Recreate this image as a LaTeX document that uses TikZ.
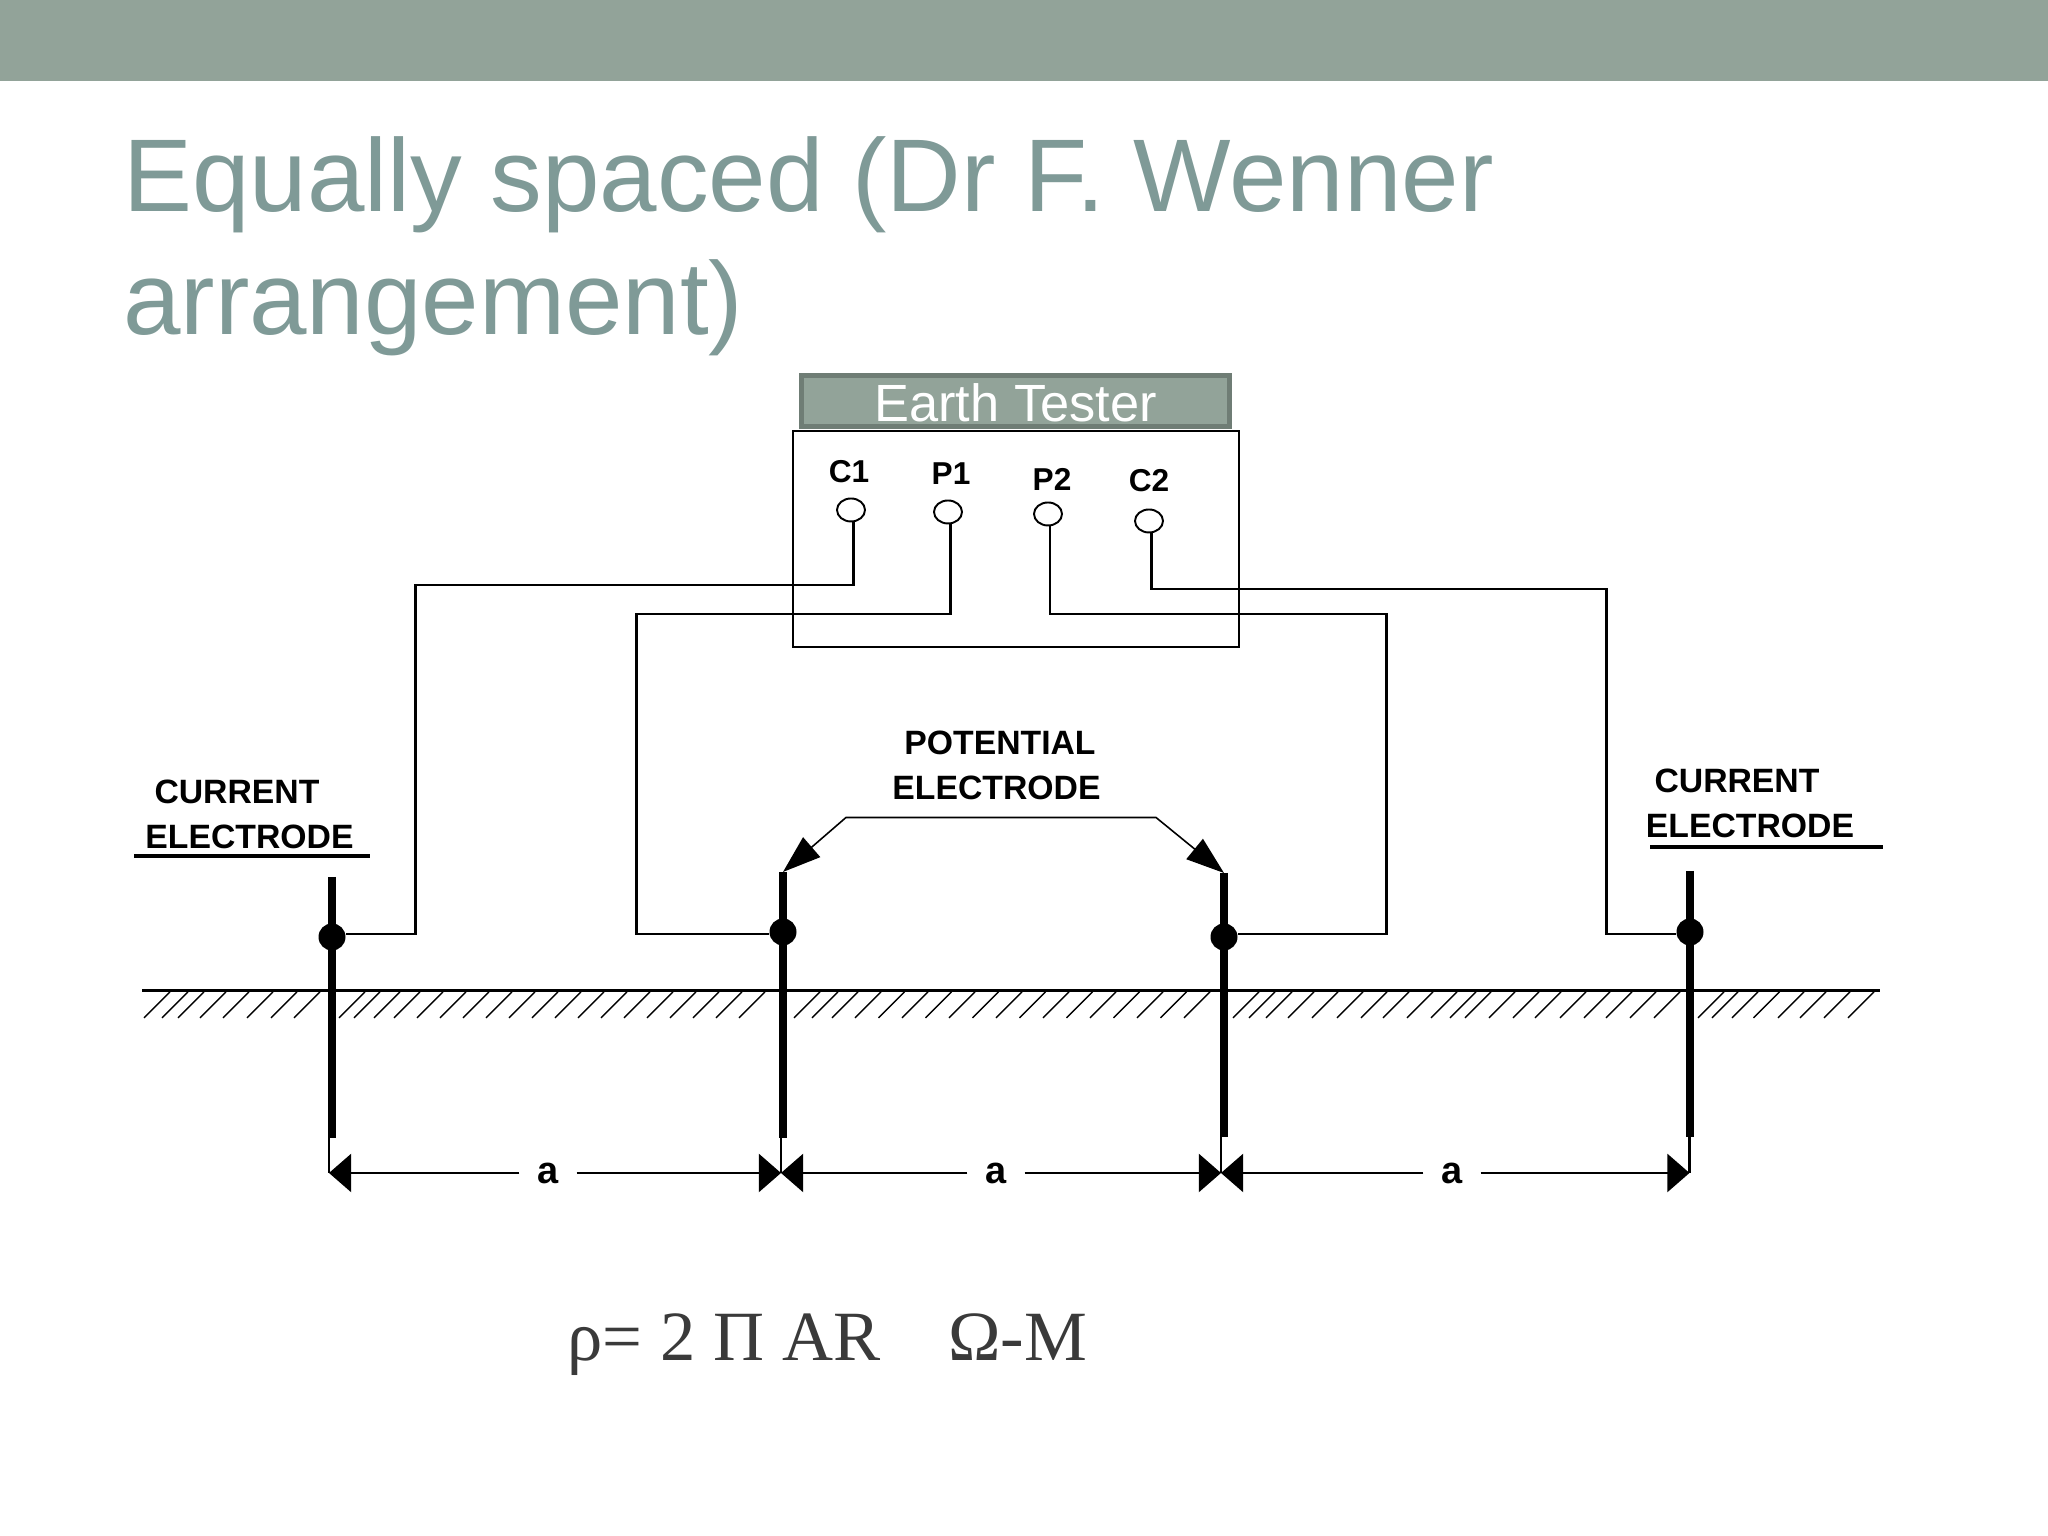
\documentclass[tikz,border=0pt]{standalone}
\usepackage{fontspec}
\setmainfont{Liberation Sans}
\newfontfamily\formulafont{Liberation Serif}
\usetikzlibrary{arrows.meta}
\usetikzlibrary{shapes.geometric}

\definecolor{barcolor}{HTML}{92A399}
\definecolor{barborder}{HTML}{6F7D75}
\definecolor{titlecolor}{HTML}{7F9A97}
\definecolor{formulacolor}{HTML}{3A3A3A}

\tikzset{
  slidetitle/.style={anchor=base west, inner sep=0pt, text=titlecolor, font=\fontsize{29.4}{29.4}\selectfont},
  testertitle/.style={draw=barborder, fill=barcolor, line width=1.4pt, text=white, minimum width=4.28cm, minimum height=0.51cm, inner sep=0pt, text height=0.41cm, text depth=0pt, font=\fontsize{14.9}{14.9}\selectfont},
  testerbox/.style={draw, line width=0.75pt, minimum width=4.46cm, minimum height=2.16cm, inner sep=0pt},
  terminal/.style={draw, ellipse, line width=0.55pt, minimum width=0.28cm, minimum height=0.23cm, inner sep=0pt},
  tag/.style={inner sep=0pt, font=\bfseries\fontsize{9.6}{9.6}\selectfont},
  termtag/.style={inner sep=0pt, font=\bfseries\fontsize{9}{9}\selectfont},
  wire/.style={line width=0.7pt},
  rod/.style={line width=2.3pt},
  rodend/.style={line width=0.6pt},
  joint/.style={circle, fill=black, minimum size=0.27cm, inner sep=0pt},
  rule/.style={line width=1.2pt},
  groundline/.style={line width=0.7pt},
  hatch/.style={line width=0.4pt},
  leader/.style={line width=0.45pt, {Triangle[length=10.8pt, width=7.4pt]}-{Triangle[length=10.8pt, width=7.4pt]}},
  dimline/.style={line width=0.75pt, -{Triangle[length=6.3pt, width=10.8pt]}},
  dimtag/.style={minimum width=0.56cm, inner sep=0pt, font=\bfseries\fontsize{10.8}{10.8}\selectfont}
}

\begin{document}
\begin{tikzpicture}[scale = 1]
\useasboundingbox (0, 0) rectangle (20.48, 15.36);
\fill[barcolor] (0, 14.55) rectangle (20.48, 15.36);
\node[slidetitle] (title1) at (1.225, 13.24){Equally spaced (Dr F. Wenner};
\node[slidetitle] (title2) at (1.225, 12.01){arrangement)};

\node[testerbox] (meter) at (10.16, 9.97){};
\node[testertitle] (tester) at (10.155, 11.35){Earth Tester};

\node[termtag] (c1) at (8.49, 10.64){C1};
\node[termtag] (p1) at (9.51, 10.62){P1};
\node[termtag] (p2) at (10.52, 10.57){P2};
\node[termtag] (c2) at (11.49, 10.55){C2};
\node[terminal] (tc1) at (8.51, 10.26){};
\node[terminal] (tp1) at (9.48, 10.24){};
\node[terminal] (tp2) at (10.48, 10.22){};
\node[terminal] (tc2) at (11.49, 10.15){};

% rods
\coordinate (e1top) at (3.32, 6.59);
\coordinate (e1bot) at (3.32, 3.98);
\coordinate (e2top) at (7.83, 6.64);
\coordinate (e2bot) at (7.83, 3.98);
\coordinate (e3top) at (12.24, 6.63);
\coordinate (e3bot) at (12.24, 3.99);
\coordinate (e4top) at (16.90, 6.65);
\coordinate (e4bot) at (16.90, 3.99);
\draw[rod] (e1top) -- (e1bot);
\draw[rod] (e2top) -- (e2bot);
\draw[rod] (e3top) -- (e3bot);
\draw[rod] (e4top) -- (e4bot);
\node[joint] (j1) at (3.32, 5.99){};
\node[joint] (j2) at (7.83, 6.04){};
\node[joint] (j3) at (12.24, 5.99){};
\node[joint] (j4) at (16.90, 6.04){};

% wires
\draw[wire] (j1.13) -| (4.155, 9.51) -| (tc1.-78);
\draw[wire] (j2.189) -| (6.365, 9.22) -| (tp1.-78);
\draw[wire] (j3.13) -| (13.865, 9.22) -| (tp2.-80);
\draw[wire] (j4.189) -| (16.065, 9.47) -| (tc2.-78);

% ground
\coordinate (g1) at (1.42, 5.455);
\coordinate (g2) at (18.80, 5.455);
\draw[groundline] (g1) -- (g2);
\foreach \hx in {1.44,1.62,1.78,2.00,2.23,2.47,2.71,2.94,3.39,3.54,3.74,3.94,4.17,...,7.50,7.94,8.12,8.32,8.55,8.785,...,11.89,12.33,12.49,12.66,12.88,13.12,13.37,13.61,13.83,14.07,14.31,14.50,14.65,14.89,15.13,15.35,15.60,15.84,16.06,16.30,16.54,16.98,17.12,17.32,17.535,17.78,18.00,18.24,18.48}
  \draw[hatch] (\hx, 5.18) -- ++(0.26, 0.26);

% dimensions
\coordinate (d1) at (3.29, 3.63);
\coordinate (d2) at (7.81, 3.63);
\coordinate (d3) at (12.21, 3.63);
\coordinate (d4) at (16.895, 3.63);
\draw[rodend] (d1) -- (d1 |- e1bot);
\draw[rodend] (d2) -- (d2 |- e2bot);
\draw[rodend] (d3) -- (d3 |- e3bot);
\draw[rodend] (d4) -- (d4 |- e4bot);
\node[dimtag] (a1) at (5.48, 3.63){a};
\node[dimtag] (a2) at (9.96, 3.63){a};
\node[dimtag] (a3) at (14.52, 3.63){a};
\draw[dimline] (a1) -- (d1);
\draw[dimline] (a1) -- (d2);
\draw[dimline] (a2) -- (d2);
\draw[dimline] (a2) -- (d3);
\draw[dimline] (a3) -- (d3);
\draw[dimline] (a3) -- (d4);

% labels
\node[tag] (pot1) at (10.00, 7.93){POTENTIAL};
\node[tag] (pot2) at (9.965, 7.485){ELECTRODE};
\coordinate (k1) at (8.46, 7.185);
\coordinate (k2) at (11.56, 7.185);
\draw[leader] (e2top) -- (k1) -- (k2) -- (e3top);
\node[tag] (cur1) at (2.37, 7.44){CURRENT};
\node[tag] (elec1) at (2.495, 6.99){ELECTRODE};
\draw[rule] (1.34, 6.80) -- (3.70, 6.80);
\node[tag] (cur2) at (17.37, 7.55){CURRENT};
\node[tag] (elec2) at (17.50, 7.10){ELECTRODE};
\draw[rule] (16.50, 6.89) -- (18.83, 6.89);

\node[anchor=base west, inner sep=0pt, text=formulacolor, font=\formulafont\fontsize{20.1}{20.1}\selectfont] (formula) at (5.67, 1.75){ρ= 2 Π AR\hspace{0.68cm}Ω-M};
\end{tikzpicture}
\end{document}
